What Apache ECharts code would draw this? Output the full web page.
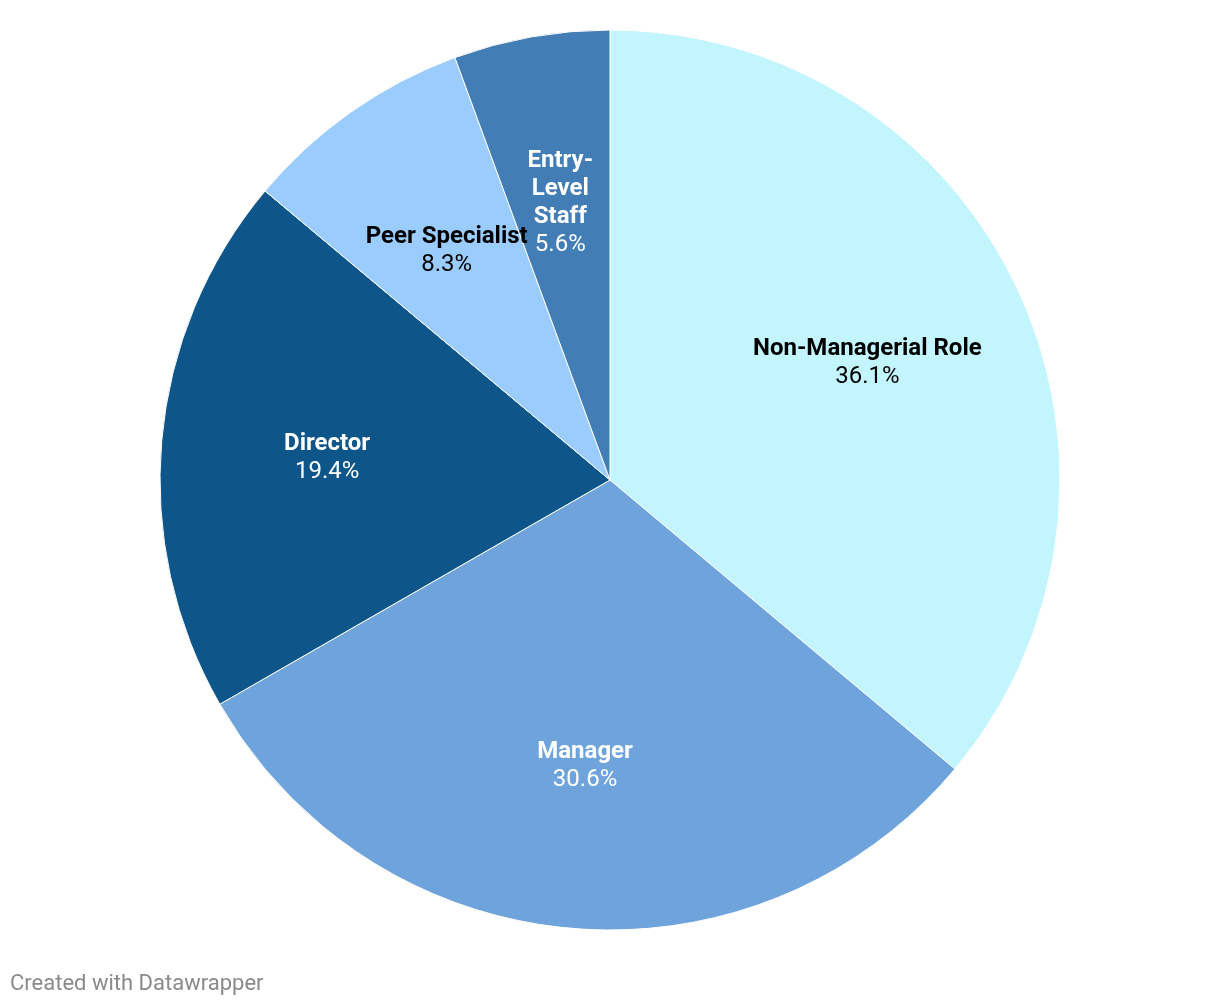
<!DOCTYPE html>
<html>
<head>
<meta charset="utf-8">
<script src="https://cdn.jsdelivr.net/npm/echarts@6/dist/echarts.min.js"></script>
<style>
html,body{margin:0;padding:0;background:#fff;}
#chart{width:1220px;height:1006px;}
</style>
</head>
<body>
<div id="chart"></div>
<script>
const categories = ['Non-Managerial Role', 'Manager', 'Director', 'Peer Specialist', 'Entry-Level Staff'];
const values = [36.1, 30.6, 19.4, 8.3, 5.6];
const labelLines = ['Non-Managerial Role', 'Manager', 'Director', 'Peer Specialist', 'Entry-\nLevel\nStaff'];
const colors = ['#c2f5fe', '#6fa3dc', '#0e5689', '#9accfe', '#437db5'];
const textColors = ['#000000', '#ffffff', '#ffffff', '#000000', '#ffffff'];

const chart = echarts.init(document.getElementById('chart'), null, {renderer: 'canvas'});

const pieData = categories.map((c, i) => ({
  name: c, value: values[i], itemStyle: {color: colors[i]}
}));
const labelData = categories.map((c, i) => ({
  name: c, value: values[i],
  itemStyle: {color: 'rgba(0,0,0,0)'},
  label: {
    color: textColors[i],
    formatter: () => '{n|' + labelLines[i].split('\n').join('}\n{n|') + '}\n{p|' + values[i].toFixed(1) + '%}',
    rich: {
      n: {fontFamily: 'Roboto', fontWeight: 'bold', fontSize: 24, lineHeight: 28, color: textColors[i]},
      p: {fontFamily: 'Roboto', fontWeight: 'normal', fontSize: 24, lineHeight: 28, color: textColors[i]}
    }
  }
}));

chart.setOption({
  animation: false,
  backgroundColor: '#ffffff',
  graphic: [{
    type: 'text', left: 10, top: 973,
    style: {text: 'Created with Datawrapper', fill: '#8a8a8a', font: '22px Roboto'}
  }],
  series: [
    {
      type: 'pie', center: [610, 480], radius: [0, 450],
      startAngle: 90, clockwise: true, silent: true,
      label: {show: false}, labelLine: {show: false},
      itemStyle: {borderColor: '#ffffff', borderWidth: 1},
      data: pieData
    },
    {
      type: 'pie', center: [610, 480], radius: [112, 450],
      startAngle: 90, clockwise: true, silent: true,
      avoidLabelOverlap: false,
      labelLayout: {hideOverlap: false},
      label: {show: true, position: 'inside', align: 'center', offset: [0, 3]},
      labelLine: {show: false},
      itemStyle: {borderWidth: 0},
      data: labelData
    }
  ]
});
</script>
</body>
</html>
